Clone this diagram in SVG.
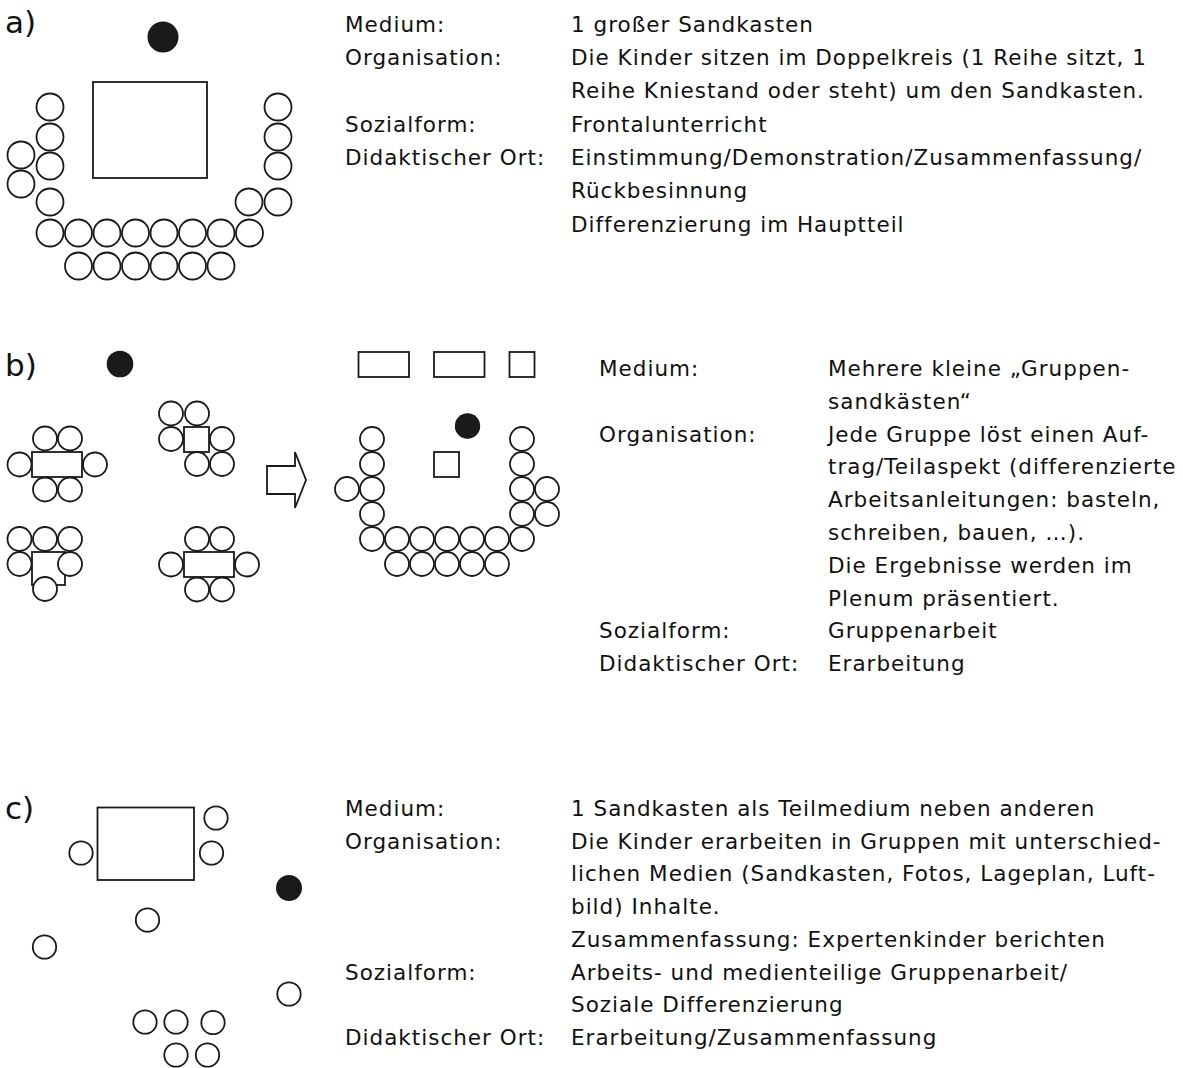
<svg xmlns="http://www.w3.org/2000/svg" width="1183" height="1068" viewBox="0 0 1183 1068">
<style>
  text { font-family: "DejaVu Sans", "Liberation Sans", sans-serif; fill: #111111; }
  .t { font-size: 21.5px; letter-spacing: 1px; }
  .h { font-size: 31px; }
  .c { fill: #ffffff; stroke: #1a1a1a; stroke-width: 1.8; }
  .r { fill: #ffffff; stroke: #1a1a1a; stroke-width: 1.8; }
  .d { fill: #1a1a1a; stroke: none; }
</style>
<rect width="1183" height="1068" fill="#ffffff"/>

<!-- Section a -->
<g id="label-a"><text class="h" x="5" y="33">a)</text></g>
<g id="a-teacher"><circle class="d" cx="163" cy="37" r="15.5"/></g>
<g id="a-sandbox"><rect class="r" x="93" y="82" width="114" height="96"/></g>
<g id="a-children">
  <circle class="c" cx="50" cy="107" r="13.5"/>
  <circle class="c" cx="50" cy="137" r="13.5"/>
  <circle class="c" cx="50" cy="166" r="13.5"/>
  <circle class="c" cx="50" cy="202" r="13.5"/>
  <circle class="c" cx="21" cy="155" r="13.5"/>
  <circle class="c" cx="21" cy="184" r="13.5"/>
  <circle class="c" cx="278" cy="107" r="13.5"/>
  <circle class="c" cx="278" cy="137" r="13.5"/>
  <circle class="c" cx="278" cy="166" r="13.5"/>
  <circle class="c" cx="278" cy="202" r="13.5"/>
  <circle class="c" cx="249" cy="202" r="13.5"/>
  <circle class="c" cx="50" cy="233" r="13.5"/>
  <circle class="c" cx="78.5" cy="233" r="13.5"/>
  <circle class="c" cx="107" cy="233" r="13.5"/>
  <circle class="c" cx="135.5" cy="233" r="13.5"/>
  <circle class="c" cx="164" cy="233" r="13.5"/>
  <circle class="c" cx="192.5" cy="233" r="13.5"/>
  <circle class="c" cx="221" cy="233" r="13.5"/>
  <circle class="c" cx="249.5" cy="233" r="13.5"/>
  <circle class="c" cx="78.5" cy="266" r="13.5"/>
  <circle class="c" cx="107" cy="266" r="13.5"/>
  <circle class="c" cx="135.5" cy="266" r="13.5"/>
  <circle class="c" cx="164" cy="266" r="13.5"/>
  <circle class="c" cx="192.5" cy="266" r="13.5"/>
  <circle class="c" cx="221" cy="266" r="13.5"/>
</g>
<g id="a-text" class="t">
  <text x="345" y="31.7">Medium:</text>
  <text x="571" y="31.7">1 großer Sandkasten</text>
  <text x="345" y="65">Organisation:</text>
  <text x="571" y="65">Die Kinder sitzen im Doppelkreis (1 Reihe sitzt, 1</text>
  <text x="571" y="98.3">Reihe Kniestand oder steht) um den Sandkasten.</text>
  <text x="345" y="131.7">Sozialform:</text>
  <text x="571" y="131.7">Frontalunterricht</text>
  <text x="345" y="165">Didaktischer Ort:</text>
  <text x="571" y="165">Einstimmung/Demonstration/Zusammenfassung/</text>
  <text x="571" y="198.3">Rückbesinnung</text>
  <text x="571" y="231.7">Differenzierung im Hauptteil</text>
</g>

<!-- Section b -->
<g id="label-b"><text class="h" x="5" y="376">b)</text></g>
<g id="b-teacher"><circle class="d" cx="120" cy="364" r="13.3"/></g>
<g id="b-group1">
  <rect class="r" x="32" y="452" width="50" height="25"/>
  <circle class="c" cx="45" cy="438.5" r="12"/>
  <circle class="c" cx="70" cy="438.5" r="12"/>
  <circle class="c" cx="19.5" cy="464.5" r="12"/>
  <circle class="c" cx="95" cy="464.5" r="12"/>
  <circle class="c" cx="45" cy="489.5" r="12"/>
  <circle class="c" cx="70" cy="489.5" r="12"/>
</g>
<g id="b-group2">
  <rect class="r" x="184" y="427" width="25" height="25"/>
  <circle class="c" cx="171" cy="413.5" r="12"/>
  <circle class="c" cx="197" cy="413.5" r="12"/>
  <circle class="c" cx="171" cy="439" r="12"/>
  <circle class="c" cx="222" cy="439" r="12"/>
  <circle class="c" cx="197" cy="464" r="12"/>
  <circle class="c" cx="222" cy="464" r="12"/>
</g>
<g id="b-group3">
  <rect class="r" x="32" y="552" width="33" height="33"/>
  <circle class="c" cx="19.5" cy="539" r="12"/>
  <circle class="c" cx="45" cy="539" r="12"/>
  <circle class="c" cx="70" cy="539" r="12"/>
  <circle class="c" cx="19.5" cy="564" r="12"/>
  <circle class="c" cx="70" cy="564" r="12"/>
  <circle class="c" cx="45" cy="589" r="12"/>
</g>
<g id="b-group4">
  <rect class="r" x="184" y="552" width="50" height="25"/>
  <circle class="c" cx="197" cy="539" r="12"/>
  <circle class="c" cx="222" cy="539" r="12"/>
  <circle class="c" cx="171" cy="564.5" r="12"/>
  <circle class="c" cx="247" cy="564.5" r="12"/>
  <circle class="c" cx="197" cy="589.5" r="12"/>
  <circle class="c" cx="222" cy="589.5" r="12"/>
</g>
<g id="connectors">
  <polygon class="r" points="267,466 295,466 295,452 306,480 295,508 295,494 267,494"/>
</g>
<g id="b-tables">
  <rect class="r" x="358.5" y="352" width="50.5" height="25"/>
  <rect class="r" x="434" y="352" width="50.5" height="25"/>
  <rect class="r" x="509.5" y="352" width="25" height="25"/>
</g>
<g id="b-teacher2"><circle class="d" cx="467.5" cy="426" r="12.7"/></g>
<g id="b-sandbox"><rect class="r" x="434" y="452" width="25" height="25"/></g>
<g id="b-children">
  <circle class="c" cx="372" cy="439" r="12"/>
  <circle class="c" cx="372" cy="464" r="12"/>
  <circle class="c" cx="372" cy="489" r="12"/>
  <circle class="c" cx="372" cy="514" r="12"/>
  <circle class="c" cx="347" cy="489" r="12"/>
  <circle class="c" cx="522" cy="439" r="12"/>
  <circle class="c" cx="522" cy="464" r="12"/>
  <circle class="c" cx="522" cy="489" r="12"/>
  <circle class="c" cx="522" cy="514" r="12"/>
  <circle class="c" cx="547" cy="489" r="12"/>
  <circle class="c" cx="547" cy="514" r="12"/>
  <circle class="c" cx="372" cy="539" r="12"/>
  <circle class="c" cx="397" cy="539" r="12"/>
  <circle class="c" cx="422" cy="539" r="12"/>
  <circle class="c" cx="447" cy="539" r="12"/>
  <circle class="c" cx="472" cy="539" r="12"/>
  <circle class="c" cx="497" cy="539" r="12"/>
  <circle class="c" cx="522" cy="539" r="12"/>
  <circle class="c" cx="397" cy="564" r="12"/>
  <circle class="c" cx="422" cy="564" r="12"/>
  <circle class="c" cx="447" cy="564" r="12"/>
  <circle class="c" cx="472" cy="564" r="12"/>
  <circle class="c" cx="497" cy="564" r="12"/>
</g>
<g id="b-text" class="t">
  <text x="599" y="376">Medium:</text>
  <text x="828" y="376">Mehrere kleine „Gruppen-</text>
  <text x="828" y="408.8">sandkästen“</text>
  <text x="599" y="441.6">Organisation:</text>
  <text x="828" y="441.6">Jede Gruppe löst einen Auf-</text>
  <text x="828" y="474.4">trag/Teilaspekt (differenzierte</text>
  <text x="828" y="507.2">Arbeitsanleitungen: basteln,</text>
  <text x="828" y="540">schreiben, bauen, …).</text>
  <text x="828" y="572.8">Die Ergebnisse werden im</text>
  <text x="828" y="605.6">Plenum präsentiert.</text>
  <text x="599" y="638.4">Sozialform:</text>
  <text x="828" y="638.4">Gruppenarbeit</text>
  <text x="599" y="671.2">Didaktischer Ort:</text>
  <text x="828" y="671.2">Erarbeitung</text>
</g>

<!-- Section c -->
<g id="label-c"><text class="h" x="5" y="819">c)</text></g>
<g id="c-sandbox"><rect class="r" x="97.5" y="807.5" width="96.5" height="72.5"/></g>
<g id="c-teacher"><circle class="d" cx="289" cy="888" r="13"/></g>
<g id="c-children">
  <circle class="c" cx="216" cy="818" r="11.7"/>
  <circle class="c" cx="211.5" cy="853" r="11.7"/>
  <circle class="c" cx="81" cy="853" r="11.7"/>
  <circle class="c" cx="147.5" cy="920" r="11.7"/>
  <circle class="c" cx="44.5" cy="947" r="11.7"/>
  <circle class="c" cx="289" cy="994" r="11.7"/>
  <circle class="c" cx="145" cy="1022" r="11.7"/>
  <circle class="c" cx="176" cy="1022" r="11.7"/>
  <circle class="c" cx="213" cy="1022.5" r="11.7"/>
  <circle class="c" cx="176" cy="1055" r="11.7"/>
  <circle class="c" cx="207.5" cy="1055" r="11.7"/>
</g>
<g id="c-text" class="t">
  <text x="345" y="816">Medium:</text>
  <text x="571" y="816">1 Sandkasten als Teilmedium neben anderen</text>
  <text x="345" y="848.7">Organisation:</text>
  <text x="571" y="848.7">Die Kinder erarbeiten in Gruppen mit unterschied-</text>
  <text x="571" y="881.4">lichen Medien (Sandkasten, Fotos, Lageplan, Luft-</text>
  <text x="571" y="914.1">bild) Inhalte.</text>
  <text x="571" y="946.8">Zusammenfassung: Expertenkinder berichten</text>
  <text x="345" y="979.5">Sozialform:</text>
  <text x="571" y="979.5">Arbeits- und medienteilige Gruppenarbeit/</text>
  <text x="571" y="1012.2">Soziale Differenzierung</text>
  <text x="345" y="1044.9">Didaktischer Ort:</text>
  <text x="571" y="1044.9">Erarbeitung/Zusammenfassung</text>
</g>
</svg>
